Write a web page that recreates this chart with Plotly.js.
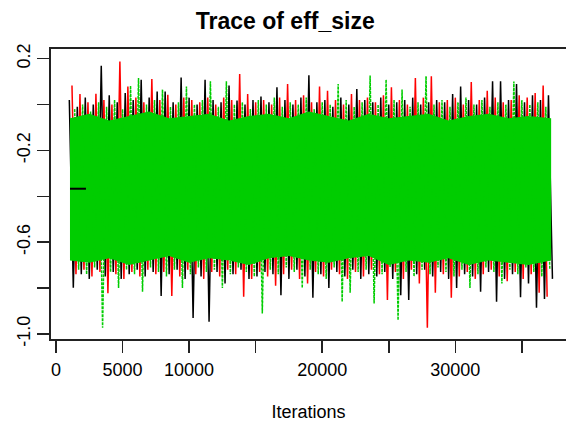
<!DOCTYPE html>
<html>
<head>
<meta charset="utf-8">
<script src="https://cdn.plot.ly/plotly-3.0.1.min.js"></script>
<style>html,body{margin:0;padding:0;background:#fff;}#chart{width:566px;height:427px;}</style>
</head>
<body>
<div id="chart"></div>
<script>
// Iteration bins: each bin holds one upper and one lower excursion per chain
const binStart = 1000;
const binStep = 600;
const chainOffset = [0, 200, 400];

// Chain 1 (black): upper / lower excursions per bin
const chain1Hi = [0.02,-0.01,0.03,0.00,0.169,0.04,0.01,0.05,0.02,0.108,0.03,0.057,0.057,0.01,0.118,0.03,0.00,0.108,0.02,0.01,0.083,0.017,0.00,0.02,0.035,0.01,0.075,0.02,0.00,0.03,0.127,0.01,0.02,-0.01,0.03,0.00,0.068,0.02,0.01,0.03,0.00,0.01,0.02,0.03,0.00,0.01,0.02,0.01,0.046,0.079,0.02,0.00,0.03,0.101,0.101,0.02,0.089,0.01,0.04,0.02,0.04];
const chain1Lo = [-0.799,-0.74,-0.76,-0.72,-0.75,-0.73,-0.76,-0.74,-0.72,-0.75,-0.73,-0.834,-0.74,-0.72,-0.76,-0.930,-0.75,-0.947,-0.73,-0.78,-0.74,-0.72,-0.76,-0.75,-0.73,-0.74,-0.831,-0.76,-0.72,-0.75,-0.842,-0.74,-0.80,-0.73,-0.75,-0.72,-0.76,-0.74,-0.75,-0.73,-0.76,-0.831,-0.852,-0.74,-0.72,-0.75,-0.73,-0.76,-0.80,-0.74,-0.75,-0.816,-0.73,-0.86,-0.76,-0.74,-0.84,-0.78,-0.886,-0.848,-0.76];

// Chain 2 (red)
const chain2Hi = [0.083,0.046,0.01,0.047,0.02,0.00,0.188,0.079,0.03,0.01,0.111,0.02,0.043,0.00,0.03,0.02,0.01,0.03,0.00,0.03,0.02,0.133,0.046,0.01,0.02,0.00,0.03,0.089,0.02,0.04,0.01,0.079,0.06,0.02,0.00,0.046,0.02,0.03,0.01,0.04,0.075,0.02,0.00,0.116,0.03,0.123,0.01,0.02,0.03,0.00,0.098,0.02,0.06,0.03,0.01,0.02,0.04,0.03,0.05,0.083];
const chain2Lo = [-0.74,-0.72,-0.75,-0.73,-0.823,-0.74,-0.76,-0.73,-0.75,-0.72,-0.74,-0.73,-0.834,-0.75,-0.72,-0.74,-0.76,-0.73,-0.75,-0.72,-0.74,-0.838,-0.76,-0.73,-0.75,-0.79,-0.74,-0.72,-0.76,-0.78,-0.73,-0.75,-0.72,-0.74,-0.76,-0.73,-0.75,-0.72,-0.74,-0.852,-0.73,-0.76,-0.72,-0.78,-0.973,-0.82,-0.74,-0.842,-0.75,-0.73,-0.76,-0.74,-0.72,-0.75,-0.77,-0.73,-0.76,-0.74,-0.82,-0.838];

// Chain 3 (green, dotted)
const chain3Hi = [-0.02,0.00,-0.03,0.01,-0.01,0.02,-0.02,0.082,0.116,0.00,0.02,0.065,-0.01,0.01,0.079,0.00,0.02,0.101,-0.01,0.101,0.00,0.01,-0.02,0.02,0.00,0.03,-0.01,0.01,0.00,0.03,-0.02,0.01,0.00,0.089,0.02,-0.01,0.01,0.126,0.00,0.108,0.02,0.065,-0.01,0.01,0.123,0.00,0.02,-0.01,0.01,0.03,0.00,0.02,-0.01,0.01,0.00,0.10,0.02,0.00,0.01,-0.01];
const chain3Lo = [-0.72,-0.74,-0.71,-0.973,-0.73,-0.80,-0.72,-0.74,-0.816,-0.71,-0.73,-0.75,-0.72,-0.80,-0.74,-0.71,-0.73,-0.72,-0.80,-0.74,-0.71,-0.73,-0.75,-0.911,-0.72,-0.74,-0.71,-0.73,-0.80,-0.72,-0.74,-0.76,-0.71,-0.86,-0.82,-0.73,-0.72,-0.867,-0.74,-0.71,-0.94,-0.73,-0.75,-0.72,-0.74,-0.71,-0.73,-0.75,-0.72,-0.80,-0.74,-0.71,-0.73,-0.78,-0.72,-0.74,-0.71,-0.73,-0.75,-0.72];

// Dense core of chain 3 (where its trace is solid)
const coreIter = [1050,2500,4000,5500,7000,8500,10000,11500,13000,14500,16000,17500,19000,20500,22000,23500,25000,26500,28000,29500,31000,32500,34000,35500,37200];
const coreHi = [-0.06,-0.04,-0.07,-0.05,-0.03,-0.06,-0.05,-0.04,-0.07,-0.05,-0.04,-0.06,-0.03,-0.05,-0.07,-0.04,-0.06,-0.05,-0.04,-0.07,-0.05,-0.04,-0.06,-0.05,-0.06];
const coreLo = [-0.68,-0.69,-0.67,-0.70,-0.68,-0.66,-0.69,-0.67,-0.68,-0.70,-0.67,-0.66,-0.68,-0.69,-0.67,-0.66,-0.70,-0.68,-0.69,-0.67,-0.70,-0.68,-0.69,-0.70,-0.68];

// Short black segment at the start of chain 1
const startIter = [1050, 2250];
const startVal = [-0.367, -0.367];

// Axis ticks
const xTickVals = [0,5000,10000,15000,20000,25000,30000,35000];
const xTickText = ['0','5000','10000','','20000','','30000',''];
const yTickVals = [-1.0,-0.8,-0.6,-0.4,-0.2,0.0,0.2];
const yTickText = ['-1.0','','-0.6','','-0.2','','0.2'];

function zig(hi, lo, off) {
  const x = [], y = [];
  for (let k = 0; k < hi.length; k++) {
    const it = binStart + binStep * k + off;
    x.push(it); y.push(hi[k]);
    x.push(it + binStep / 2); y.push(lo[k]);
  }
  return {x, y};
}

const c1 = zig(chain1Hi, chain1Lo, chainOffset[0]);
const c2 = zig(chain2Hi, chain2Lo, chainOffset[1]);
const c3 = zig(chain3Hi, chain3Lo, chainOffset[2]);

const GREEN = '#00CD00';
const traces = [
  {x: c1.x, y: c1.y, mode: 'lines', line: {color: '#000000', width: 1.5}, hoverinfo: 'skip'},
  {x: c2.x, y: c2.y, mode: 'lines', line: {color: '#FF0000', width: 1.5}, hoverinfo: 'skip'},
  {x: coreIter.concat(coreIter.slice().reverse()), y: coreHi.concat(coreLo.slice().reverse()),
   mode: 'lines', fill: 'toself', fillcolor: GREEN, line: {width: 0, color: GREEN}, hoverinfo: 'skip'},
  {x: c3.x, y: c3.y, mode: 'lines', line: {color: GREEN, width: 1.5, dash: '3px,1px'}, hoverinfo: 'skip'},
  {x: startIter, y: startVal, mode: 'lines', line: {color: '#000000', width: 2}, hoverinfo: 'skip'}
];

const FONT = 'Liberation Sans, Arial, sans-serif';
const layout = {
  width: 566, height: 427,
  margin: {l: 51, r: 0, t: 49, b: 88},
  paper_bgcolor: '#ffffff', plot_bgcolor: '#ffffff',
  showlegend: false,
  font: {family: FONT, color: '#000000', size: 18},
  title: {text: '<b>Trace of eff_size</b>', font: {family: FONT, size: 23, color: '#000'},
          xref: 'container', x: 0.504, xanchor: 'center', yref: 'container', y: 0.95, yanchor: 'middle'},
  xaxis: {
    range: [-376, 38317], tickmode: 'array', tickvals: xTickVals, ticktext: xTickText,
    ticks: 'outside', ticklen: 12, tickwidth: 1.5, tickcolor: '#222',
    showline: true, linecolor: '#222', linewidth: 2, mirror: true,
    showgrid: false, zeroline: false, ticklabelstandoff: 1,
    tickfont: {family: FONT, size: 18, color: '#000'},
    title: {text: 'Iterations', font: {family: FONT, size: 18, color: '#000'}, standoff: 27}
  },
  yaxis: {
    range: [-1.022, 0.242], tickmode: 'array', tickvals: yTickVals, ticktext: yTickText,
    ticks: 'outside', ticklen: 12, tickwidth: 1.5, tickcolor: '#222', tickangle: -90,
    showline: true, linecolor: '#222', linewidth: 2, mirror: false,
    showgrid: false, zeroline: false,
    tickfont: {family: FONT, size: 18, color: '#000'}
  }
};

Plotly.newPlot('chart', traces, layout, {staticPlot: true, displayModeBar: false});
</script>
</body>
</html>
